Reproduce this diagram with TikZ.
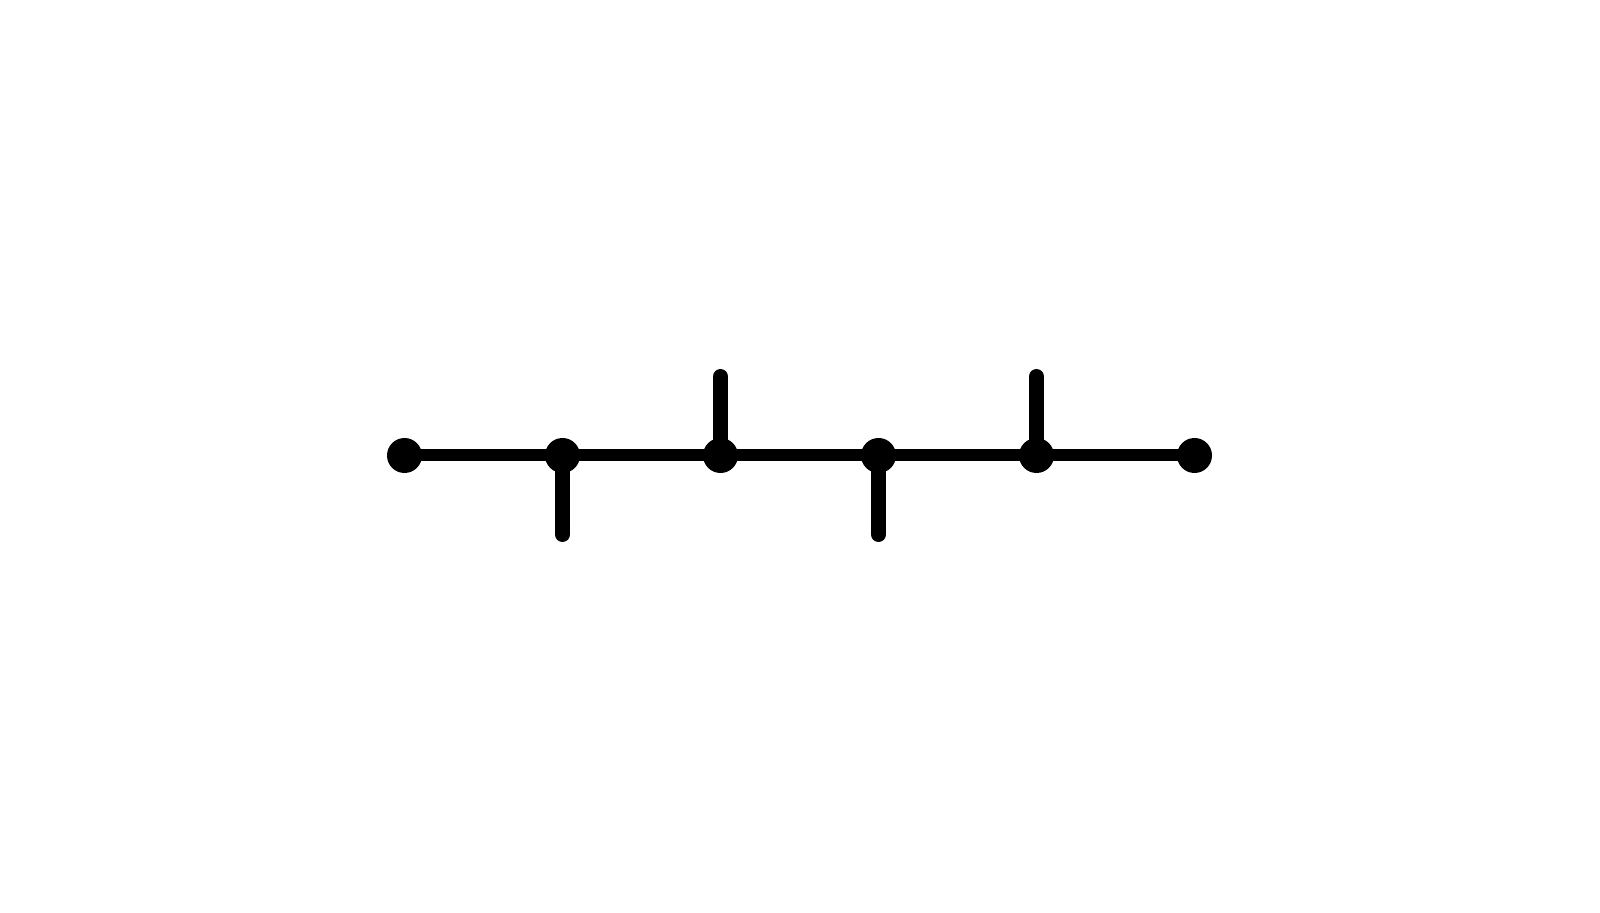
\documentclass[tikz,border=0pt]{standalone}
\usepackage{tikz}
\usetikzlibrary{positioning,calc}
\tikzstyle{dot}=[circle, fill=black, inner sep=0pt, minimum size=0.35cm]
\tikzstyle{chain}=[-, line width=0.12cm]
\tikzstyle{stub}=[-, line width=0.15cm, line cap=round]

\begin{document}
\begin{tikzpicture}

\useasboundingbox (0,0) rectangle (16,9.12);

% nodes
\foreach \i in {1,...,6}
    \node[dot] (n\i) at ({4.045 + 1.58*(\i-1)}, 4.565) {};

% chain
\foreach \i [evaluate=\i as \j using int(\i+1)] in {1,...,5}
    \draw[chain] (n\i.center) -- (n\j.center);

% stubs
\coordinate[below=0.79cm of n2.center] (s2);
\coordinate[above=0.79cm of n3.center] (s3);
\coordinate[below=0.79cm of n4.center] (s4);
\coordinate[above=0.79cm of n5.center] (s5);
\foreach \i in {2,...,5}
    \draw[stub] (n\i.center) -- (s\i);

\end{tikzpicture}
\end{document}
